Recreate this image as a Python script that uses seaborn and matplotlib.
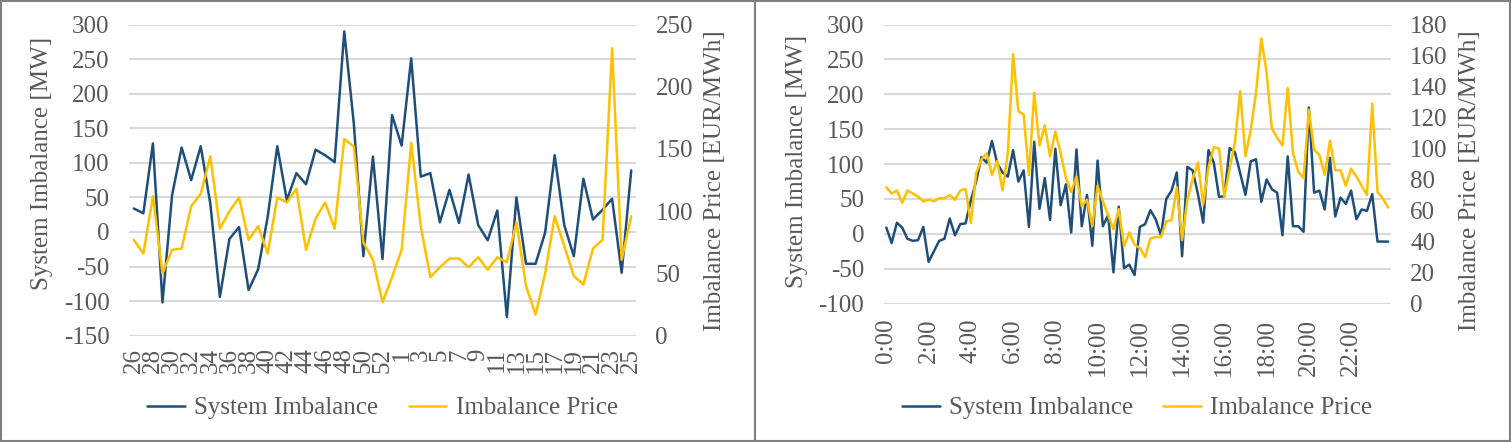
import numpy as np
import pandas as pd
import matplotlib
matplotlib.use('Agg')
import matplotlib.pyplot as plt
import seaborn as sns

# ---- data: weekly averages (left) ----
weeks = [26, 27, 28, 29, 30, 31, 32, 33, 34, 35, 36, 37, 38, 39, 40, 41, 42, 43, 44, 45,
         46, 47, 48, 49, 50, 51, 52, 53, 1, 2, 3, 4, 5, 6, 7, 8, 9, 10, 11, 12,
         13, 14, 15, 16, 17, 18, 19, 20, 21, 22, 23, 24, 25]
week_imbalance = [34, 27, 128, -102, 53, 122, 75, 124, 41, -94, -10, 7, -84, -54, 22, 124, 46, 85, 69, 119,
                  111, 101, 290, 157, -35, 109, -39, 169, 125, 251, 80, 85, 14, 61, 13, 83, 10, -12, 31, -123,
                  50, -46, -46, -1, 111, 10, -35, 77, 18, 32, 48, -59, 89]
week_price = [77, 66, 112, 50, 69, 70, 104, 114, 144, 86, 100, 111, 77, 88, 66, 111, 107, 118, 69, 94,
              107, 86, 158, 152, 75, 61, 27, 47, 69, 155, 88, 47, 55, 62, 62, 55, 63, 53, 63, 59,
              91, 40, 17, 50, 96, 72, 48, 41, 70, 77, 231, 61, 96]

# ---- data: 15-min profile (right) ----
quarter_hours = [f"{h}:{m:02d}" for h in range(24) for m in (0, 15, 30, 45)]
day_imbalance = [9, -13, 16, 9, -7, -10, -9, 10, -40, -25, -10, -7, 22, -2, 14, 15,
                 48, 75, 110, 102, 133, 101, 88, 82, 120, 75, 91, 10, 132, 36, 80, 20,
                 122, 41, 71, 2, 121, 11, 56, -17, 105, 11, 27, -55, 39, -49, -44, -59,
                 10, 14, 34, 21, -2, 50, 62, 88, -32, 96, 91, 57, 16, 120, 102, 53,
                 54, 123, 117, 87, 56, 104, 107, 46, 78, 64, 59, -2, 111, 11, 11, 3,
                 181, 59, 62, 35, 109, 25, 52, 43, 62, 21, 35, 33, 57, -11, -11, -11]
day_price = [75, 71, 73, 65, 73, 71, 69, 66, 67, 66, 68, 68, 70, 67, 73, 74,
             52, 84, 93, 97, 83, 92, 73, 97, 161, 124, 122, 83, 136, 102, 115, 95,
             111, 97, 81, 72, 82, 63, 67, 50, 76, 66, 57, 48, 61, 37, 46, 38,
             36, 30, 42, 43, 43, 53, 54, 75, 41, 67, 80, 91, 64, 88, 101, 100,
             69, 87, 104, 137, 95, 112, 136, 171, 149, 113, 107, 102, 139, 97, 85, 81,
             125, 99, 96, 83, 105, 86, 86, 76, 87, 82, 76, 70, 129, 72, 68, 62]

BLUE = '#1F4E79'
GOLD = '#FFC000'
GREY = '#595959'

sns.set_theme(style='white')
plt.rcParams['font.family'] = ['Liberation Serif', 'DejaVu Serif']
plt.rcParams['axes.unicode_minus'] = False
FS = 18

W, H = 1511, 442
fig = plt.figure(figsize=(W / 100, H / 100), dpi=100)


def px_axes(x0, y0, x1, y1):
    return fig.add_axes([x0 / W, 1 - y1 / H, (x1 - x0) / W, (y1 - y0) / H])


def style(ax, ax2):
    for a in (ax, ax2):
        for s in a.spines.values():
            s.set_visible(False)
        a.tick_params(axis='both', length=0, labelsize=FS, labelcolor=GREY)
        a.set_xlabel('')
    ax.tick_params(axis='y', pad=14)
    ax2.tick_params(axis='y', pad=14)
    ax.grid(axis='y', color='#D9D9D9', lw=1.5)
    ax.set_axisbelow(True)


def draw(ax, x, imb, price, ylim, y2lim, y2step, lab_y):
    ax2 = ax.twinx()
    df = pd.DataFrame({'x': x, 'imb': imb, 'price': price})
    sns.lineplot(data=df, x='x', y='imb', ax=ax, color=BLUE, lw=1.8, label='System Imbalance', legend=False)
    sns.lineplot(data=df, x='x', y='price', ax=ax2, color=GOLD, lw=1.8, label='Imbalance Price', legend=False)
    ax.set_ylim(*ylim)
    ax.set_yticks(np.arange(ylim[0], ylim[1] + 1, 50))
    ax2.set_ylim(*y2lim)
    ax2.set_yticks(np.arange(y2lim[0], y2lim[1] + 1, y2step))
    ax.set_xlim(-0.5, len(x) - 0.5)
    style(ax, ax2)
    ax.set_ylabel('System Imbalance [MW]', fontsize=FS, color=GREY)
    ax2.set_ylabel('Imbalance Price [EUR/MWh]', fontsize=FS, color=GREY)
    ax.yaxis.set_label_coords(-0.15, lab_y[0])
    ax2.yaxis.set_label_coords(1.135, lab_y[1])
    h1, l1 = ax.get_legend_handles_labels()
    h2, l2 = ax2.get_legend_handles_labels()
    ax.legend(h1 + h2, l1 + l2, ncol=2, frameon=False, fontsize=FS, labelcolor=GREY,
              loc='center', handlelength=1.5, handletextpad=0.38, columnspacing=1.2)
    return ax2


# left panel
axL = px_axes(129, 24.5, 636, 335.7)
pos_w = list(range(len(weeks)))
draw(axL, pos_w, week_imbalance, week_price, (-150, 300), (0, 250), 50, (0.552, 0.497))
axL.set_xticks(pos_w[::2])
axL.set_xticklabels([str(w) for w in weeks[::2]], rotation=90)
axL.tick_params(axis='x', pad=9)
axL.get_legend().set_bbox_to_anchor((0.5, -(408 - 335.7) / 311.2))

# right panel
axR = px_axes(883.7, 24.5, 1390.7, 303.7)
pos_q = list(range(len(quarter_hours)))
draw(axR, pos_q, day_imbalance, day_price, (-100, 300), (0, 180), 20, (0.508, 0.44))
axR.set_xticks(pos_q[::8])
axR.set_xticklabels(quarter_hours[::8], rotation=90)
axR.tick_params(axis='x', pad=11)
axR.get_legend().set_bbox_to_anchor((0.5, -(408 - 303.7) / 279.2))

# panel frames
for x0, x1 in ((1, 755), (755, 1510)):
    fig.add_artist(plt.Rectangle((x0 / W, 1 / H), (x1 - x0) / W, (H - 2) / H,
                                 transform=fig.transFigure, fill=False, ec='#808080', lw=1.5))

fig.savefig('out.png', dpi=100)
